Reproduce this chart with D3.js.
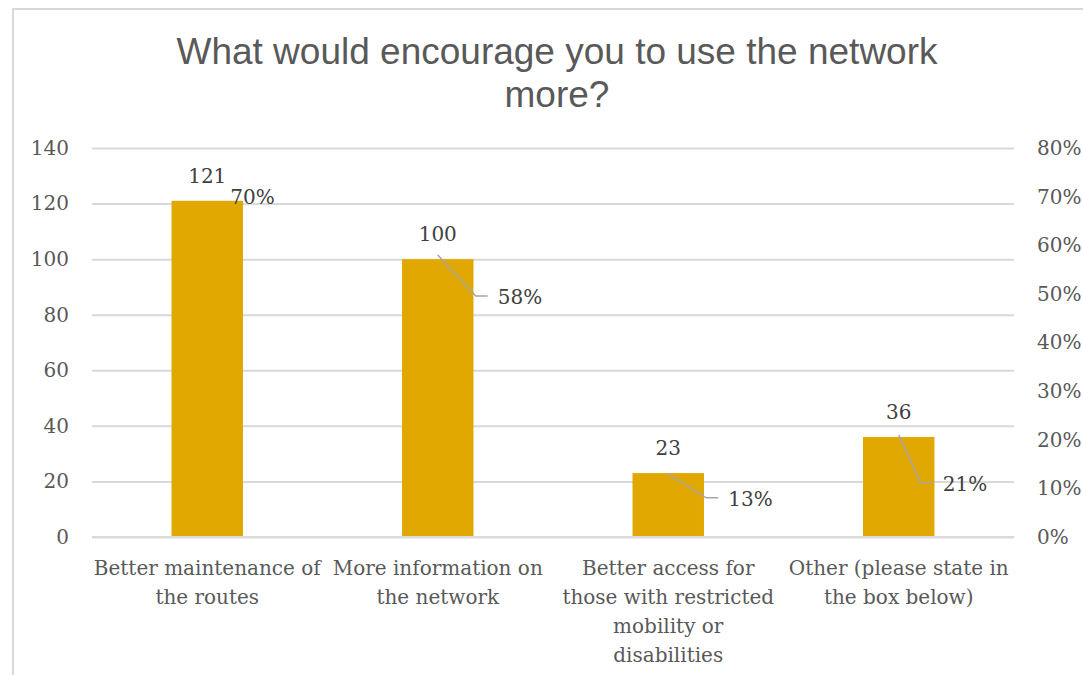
<!DOCTYPE html>
<html>
<head>
<meta charset="utf-8">
<script src="https://cdn.jsdelivr.net/npm/d3@7"></script>
<style>
  html, body { margin: 0; padding: 0; background: #fff; }
  svg { display: block; }
</style>
</head>
<body>
<svg id="chart" width="1083" height="675"></svg>
<script>
// Survey answers: what would encourage more use of the network
const categories = [
  "Better maintenance of\nthe routes",
  "More information on\nthe network",
  "Better access for\nthose with restricted\nmobility or\ndisabilities",
  "Other (please state in\nthe box below)"
];
const counts = [121, 100, 23, 36];
const shares = [0.70, 0.58, 0.13, 0.21];
const countTicks = [0, 20, 40, 60, 80, 100, 120, 140];
const shareTicks = [0, 0.1, 0.2, 0.3, 0.4, 0.5, 0.6, 0.7, 0.8];

// Share labels are pulled away from their points; [dx, dy] of the label anchor
const shareLabelShift = [[23, 0], [60, 42], [60, 25], [44, 49]];

const W = 1083, H = 675;
const plot = { left: 92, right: 1014, top: 148, bottom: 537 };
const serif = "'DejaVu Serif', serif";
const fontSize = 20;
const textGrey = "#595959";

const svg = d3.select("#chart");

// chart frame
svg.append("rect")
  .attr("x", 13).attr("y", 9)
  .attr("width", W + 20).attr("height", H + 20)
  .attr("fill", "#fff")
  .attr("stroke", "#d9d9d9").attr("stroke-width", 2);

// title
svg.append("text")
  .attr("x", 557).attr("text-anchor", "middle")
  .attr("font-family", "'Liberation Sans', Arial, sans-serif")
  .attr("font-size", 37).attr("fill", textGrey)
  .selectAll("tspan")
  .data(["What would encourage you to use the network", "more?"])
  .join("tspan")
  .attr("x", 557)
  .attr("y", (d, i) => 64 + i * 43)
  .text(d => d);

const x = d3.scaleBand()
  .domain(categories)
  .range([plot.left, plot.right])
  .paddingInner(0.69)
  .paddingOuter(0.345);

const y = d3.scaleLinear().domain([0, 140]).range([plot.bottom, plot.top]);
const yShare = d3.scaleLinear().domain([0, 0.8]).range([plot.bottom, plot.top]);

// gridlines + left axis
const leftAxis = svg.append("g")
  .attr("transform", `translate(${plot.left},0)`)
  .call(d3.axisLeft(y).tickValues(countTicks).tickSize(-(plot.right - plot.left)).tickPadding(23));
leftAxis.select(".domain").remove();
leftAxis.selectAll(".tick line").attr("stroke", "#d9d9d9").attr("stroke-width", 2);
leftAxis.selectAll(".tick text")
  .attr("font-family", serif).attr("font-size", fontSize).attr("fill", textGrey);

// right axis (shares)
const rightAxis = svg.append("g")
  .attr("transform", `translate(${plot.right},0)`)
  .call(d3.axisRight(yShare).tickValues(shareTicks).tickSize(0).tickPadding(23).tickFormat(d3.format(".0%")));
rightAxis.select(".domain").remove();
rightAxis.selectAll(".tick text")
  .attr("font-family", serif).attr("font-size", fontSize).attr("fill", textGrey);

// bars
svg.append("g").selectAll("rect")
  .data(counts)
  .join("rect")
  .attr("x", (d, i) => x(categories[i]))
  .attr("width", x.bandwidth())
  .attr("y", d => y(d))
  .attr("height", d => y(0) - y(d))
  .attr("fill", "#e0a800");

// baseline over the bars
svg.append("line")
  .attr("x1", plot.left).attr("x2", plot.right)
  .attr("y1", y(0)).attr("y2", y(0))
  .attr("stroke", "#d9d9d9").attr("stroke-width", 2);

// count labels
svg.append("g").selectAll("text")
  .data(counts)
  .join("text")
  .attr("x", (d, i) => x(categories[i]) + x.bandwidth() / 2)
  .attr("y", d => y(d) - 25)
  .attr("dy", "0.35em")
  .attr("text-anchor", "middle")
  .attr("font-family", serif).attr("font-size", fontSize).attr("fill", "#404040")
  .text(d => d);

// share labels with leader lines
const fmtShare = d3.format(".0%");
const shareG = svg.append("g");
shares.forEach((s, i) => {
  const px = x(categories[i]) + x.bandwidth() / 2;
  const py = yShare(s);
  const [dx, dy] = shareLabelShift[i];
  if (dy !== 0) {
    shareG.append("polyline")
      .attr("points", [[px, py], [px + dx - 22, py + dy - 1], [px + dx - 10, py + dy - 1]].map(p => p.join(",")).join(" "))
      .attr("fill", "none").attr("stroke", "#a6a6a6").attr("stroke-width", 1.5);
  }
  shareG.append("text")
    .attr("x", px + dx).attr("y", py + dy)
    .attr("dy", "0.35em")
    .attr("font-family", serif).attr("font-size", fontSize).attr("fill", "#404040")
    .text(fmtShare(s));
});

// category labels
const catG = svg.append("g");
categories.forEach((c, i) => {
  const cx = x(c) + x.bandwidth() / 2;
  catG.append("text")
    .attr("text-anchor", "middle")
    .attr("font-family", serif).attr("font-size", fontSize).attr("fill", textGrey)
    .selectAll("tspan")
    .data(c.split("\n"))
    .join("tspan")
    .attr("x", cx)
    .attr("y", (d, j) => 575 + j * 29)
    .text(d => d);
});
</script>
</body>
</html>
